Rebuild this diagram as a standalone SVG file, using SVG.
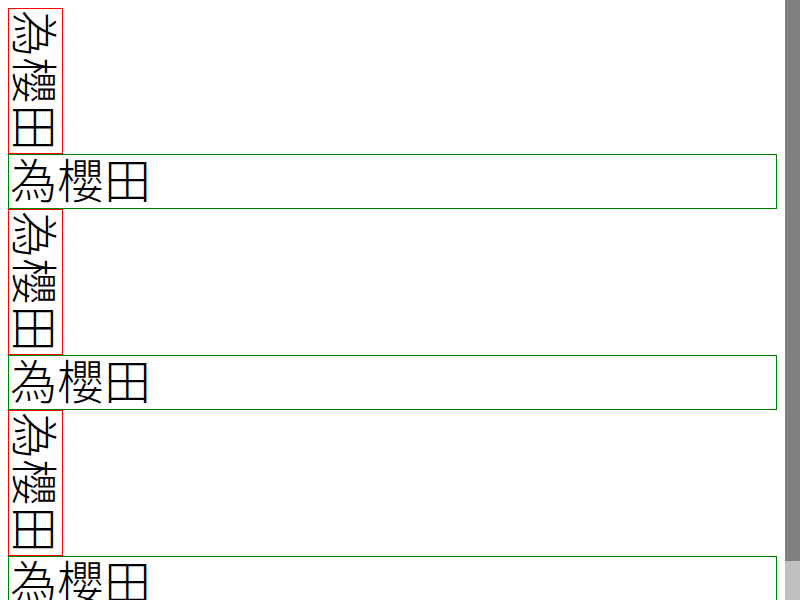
<svg xmlns="http://www.w3.org/2000/svg" width="800" height="600" viewBox="0 0 800 600">
<style>
.bg{fill:#ffffff}
.red{fill:none;stroke:#ff0000;stroke-width:1}
.green{fill:none;stroke:#008000;stroke-width:1}
.t{font-family:"Noto Sans CJK TC","Noto Sans CJK JP",sans-serif;font-size:47px;font-weight:300;fill:#000000}
</style>
<rect class="bg" x="0" y="0" width="800" height="600"/>
<g id="v1">
<rect class="red" x="8.5" y="8.5" width="54" height="145"/>
<text class="t" transform="translate(17,10) rotate(90)">為櫻田</text>
</g>
<g id="h1">
<rect class="green" x="8.5" y="154.5" width="768" height="54"/>
<text class="t" x="10" y="198">為櫻田</text>
</g>
<g id="v2">
<rect class="red" x="8.5" y="209.5" width="54" height="145"/>
<text class="t" transform="translate(17,211) rotate(90)">為櫻田</text>
</g>
<g id="h2">
<rect class="green" x="8.5" y="355.5" width="768" height="54"/>
<text class="t" x="10" y="399">為櫻田</text>
</g>
<g id="v3">
<rect class="red" x="8.5" y="410.5" width="54" height="145"/>
<text class="t" transform="translate(17,412) rotate(90)">為櫻田</text>
</g>
<g id="h3">
<rect class="green" x="8.5" y="556.5" width="768" height="54"/>
<text class="t" x="10" y="600">為櫻田</text>
</g>
<g id="connectors"></g>
<g id="scrollbar">
<rect x="785" y="0" width="15" height="561" fill="#808080"/>
<rect x="785" y="561" width="15" height="39" fill="#c0c0c0"/>
</g>
</svg>
